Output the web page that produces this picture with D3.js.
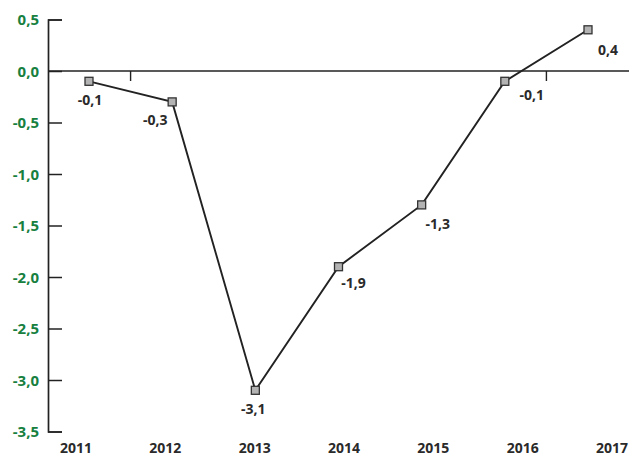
<!DOCTYPE html>
<html>
<head>
<meta charset="utf-8">
<script src="https://cdn.jsdelivr.net/npm/d3@7"></script>
<style>
  html, body { margin: 0; padding: 0; background: #fff; }
  text { font-family: "Open Sans", sans-serif; font-weight: 700; }
</style>
</head>
<body>
<div id="chart"></div>
<script>
// 資料
const years = ["2011", "2012", "2013", "2014", "2015", "2016", "2017"];
const values = [-0.1, -0.3, -3.1, -1.9, -1.3, -0.1, 0.4];
const yTicks = [0.5, 0, -0.5, -1, -1.5, -2, -2.5, -3, -3.5];

// 版面
const width = 629;
const height = 459;

// 各標籤相對於點的位置 (dx, dy)
const labelOffsets = [[1, 24], [-17, 23], [-2, 24], [15, 21], [16, 24], [27, 19], [20, 25]];

const fmt = d => d3.format(".1f")(d).replace(".", ",").replace("−", "-");

const svg = d3.select("#chart")
  .append("svg")
  .attr("width", width)
  .attr("height", height);

const y = d3.scaleLinear().domain([0.5, -3.5]).range([19.5, 431.5]);
const x = d3.scalePoint().domain(years).range([89, 588]);
// 年份標籤的位置跟點不完全對齊
const xLabel = d3.scalePoint().domain(years).range([76, 612]);

// Y 軸
const yAxis = d3.axisRight(y)
  .tickValues(yTicks)
  .tickSize(14)
  .tickFormat("");

const gy = svg.append("g")
  .attr("transform", "translate(48,0)")
  .call(yAxis);
gy.select(".domain").attr("stroke", "#222").attr("stroke-width", 1.7);
gy.selectAll(".tick line").attr("stroke", "#222").attr("stroke-width", 1.5);

svg.selectAll(".ylab")
  .data(yTicks)
  .join("text")
  .attr("class", "ylab")
  .attr("x", 39)
  .attr("y", d => y(d) + 5.5)
  .attr("text-anchor", "end")
  .style("font-size", "15px")
  .style("fill", "#17803f")
  .text(fmt);

// 零線
svg.append("line")
  .attr("x1", 48).attr("x2", width)
  .attr("y1", y(0)).attr("y2", y(0))
  .attr("stroke", "#222")
  .attr("stroke-width", 1.7);

// 看得到的兩個類別分隔刻度
[0, 5].forEach(i => {
  const mx = (x(years[i]) + x(years[i + 1])) / 2;
  svg.append("line")
    .attr("x1", mx).attr("x2", mx)
    .attr("y1", y(0)).attr("y2", y(0) + 10)
    .attr("stroke", "#222")
    .attr("stroke-width", 1.4);
});

// 年份
svg.selectAll(".xlab")
  .data(years)
  .join("text")
  .attr("class", "xlab")
  .attr("x", d => xLabel(d))
  .attr("y", 453)
  .attr("text-anchor", "middle")
  .style("font-size", "14px")
  .style("fill", "#2a2a2a")
  .text(d => d);

// 折線
const line = d3.line()
  .x((d, i) => x(years[i]))
  .y(d => y(d));

svg.append("path")
  .datum(values)
  .attr("d", line)
  .attr("fill", "none")
  .attr("stroke", "#222")
  .attr("stroke-width", 1.9);

// 點
svg.selectAll(".pt")
  .data(values)
  .join("rect")
  .attr("class", "pt")
  .attr("x", (d, i) => x(years[i]) - 4)
  .attr("y", d => y(d) - 4)
  .attr("width", 8)
  .attr("height", 8)
  .attr("fill", "#b3b3b3")
  .attr("stroke", "#333")
  .attr("stroke-width", 1.3);

// 數值標籤
svg.selectAll(".vlab")
  .data(values)
  .join("text")
  .attr("class", "vlab")
  .attr("x", (d, i) => x(years[i]) + labelOffsets[i][0])
  .attr("y", (d, i) => y(d) + labelOffsets[i][1])
  .attr("text-anchor", "middle")
  .style("font-size", "14px")
  .style("fill", "#2a2a2a")
  .text(fmt);
</script>
</body>
</html>
